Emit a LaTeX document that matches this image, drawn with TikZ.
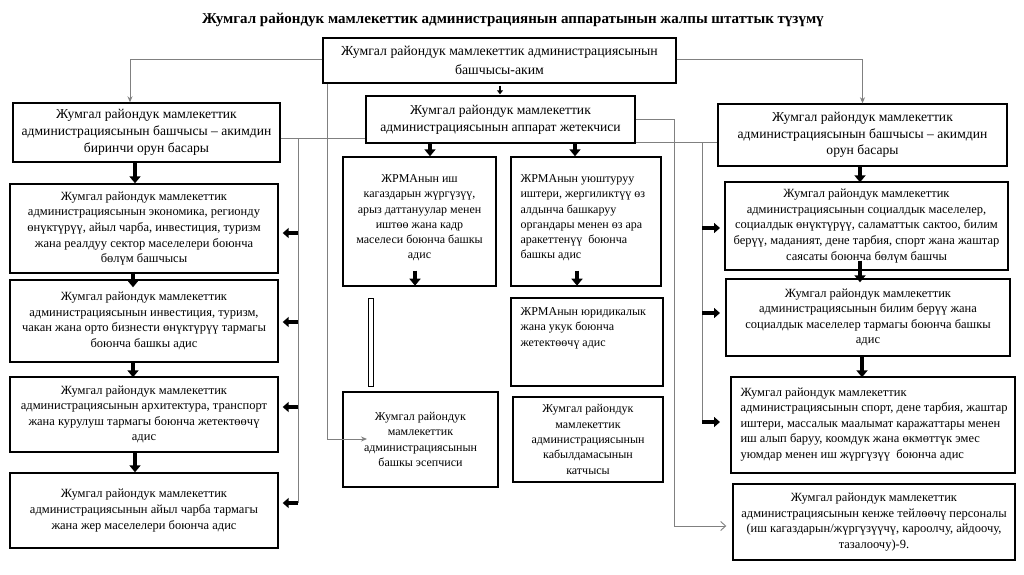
\documentclass[tikz,border=0pt]{standalone}
\usepackage{fontspec}
\setmainfont{Liberation Serif}
\usetikzlibrary{arrows.meta,calc}
\begin{document}
\begin{tikzpicture}[x=1pt,y=-1pt,
  box/.style={draw=black, line width=1.4pt, inner sep=0pt, align=center},
  sub/.style={font=\fontsize{12.5}{15.6}\selectfont},
  mid/.style={font=\fontsize{12}{15.3}\selectfont},
  head/.style={font=\fontsize{13.6}{16.7}\selectfont},
  txt/.style={inner sep=0pt, font=\fontsize{12}{15.3}\selectfont},
  conn/.style={draw=black!50, line width=0.9pt},
  tipS/.style={-{Stealth[length=6pt,width=5pt]}},
  tipO/.style={-{Straight Barb[length=5pt,width=9pt]}},
  blk/.style={line width=4pt, -{Triangle[width=11pt,length=7pt]}},
  blkh/.style={line width=3.5pt, -{Triangle[width=10pt,length=6pt]}},
  blks/.style={line width=2pt, -{Triangle[width=6pt,length=4pt]}}
]
\fill[white] (0,0) rectangle (1024,574);
\useasboundingbox (0,0) rectangle (1024,574);

\node[font=\bfseries\fontsize{15}{17}\selectfont] (title) at (513,20) {Жумгал райондук мамлекеттик администрациянын аппаратынын жалпы штаттык түзүмү};

% top
\node[box, font=\fontsize{13.8}{19}\selectfont, minimum width=353pt, minimum height=45pt] (akim) at (499.5,60.5) {Жумгал райондук мамлекеттик администрациясынын\\башчысы-аким};

\node[box, head, minimum width=267pt, minimum height=59pt] (first) at (146.5,132.5) {Жумгал райондук мамлекеттик\\администрациясынын башчысы -- акимдин\\биринчи орун басары};
\node[box, head, minimum width=269pt, minimum height=47pt] (apparat) at (500.5,119.5) {Жумгал райондук мамлекеттик\\администрациясынын аппарат жетекчиси};
\node[box, head, minimum width=289pt, minimum height=62pt] (deputy) at (862.5,135) {Жумгал райондук мамлекеттик\\администрациясынын башчысы -- акимдин\\орун басары};

% left column
\node[box, sub, minimum width=268pt, minimum height=89pt] (econ) at (144,228.5) {Жумгал райондук мамлекеттик\\администрациясынын экономика, регионду\\өнүктүрүү, айыл чарба, инвестиция, туризм\\жана реалдуу сектор маселелери боюнча\\бөлүм башчысы};
\node[box, sub, minimum width=268pt, minimum height=82pt] (invest) at (144,321) {Жумгал райондук мамлекеттик\\администрациясынын инвестиция, туризм,\\чакан жана орто бизнести өнүктүрүү тармагы\\боюнча башкы адис};
\node[box, sub, minimum width=268pt, minimum height=75pt] (arch) at (144,414.5) {Жумгал райондук мамлекеттик\\администрациясынын архитектура, транспорт\\жана курулуш тармагы боюнча жетектөөчү\\адис};
\node[box, sub, minimum width=268pt, minimum height=75pt] (agri) at (144,510.5) {Жумгал райондук мамлекеттик\\администрациясынын айыл чарба тармагы\\жана жер маселелери боюнча адис};

% middle
\node[box, minimum width=153pt, minimum height=129pt] (docs) at (419.5,221.5) {};
\node[txt, align=center, anchor=north] (docsT) at ($(docs.north)+(0,18)$) {ЖРМАнын иш\\кагаздарын жүргүзүү,\\арыз даттануулар менен\\иштөө жана кадр\\маселеси боюнча башкы\\адис};
\node[box, minimum width=150pt, minimum height=129pt] (org) at (586,221.5) {};
\node[txt, align=left, anchor=north west] (orgT) at ($(org.north west)+(10,18)$) {ЖРМАнын уюштуруу\\иштери, жергиликтүү өз\\алдынча башкаруу\\органдары менен өз ара\\аракеттенүү \ боюнча\\башкы адис};
\node[draw=black, line width=1pt, inner sep=0pt, minimum width=5pt, minimum height=88pt] (bar) at (370.5,342) {};
\node[box, minimum width=152pt, minimum height=88pt] (legal) at (587,342) {};
\node[txt, align=left, anchor=north west] (legalT) at ($(legal.north west)+(10,10)$) {ЖРМАнын юридикалык\\жана укук боюнча\\жетектөөчү адис};
\node[box, mid, minimum width=155pt, minimum height=95pt] (acct) at (420.5,439.5) {Жумгал райондук\\мамлекеттик\\администрациясынын\\башкы эсепчиси};
\node[box, mid, minimum width=150pt, minimum height=85pt] (recep) at (588,439.5) {Жумгал райондук\\мамлекеттик\\администрациясынын\\кабылдамасынын\\катчысы};

% right column
\node[box, sub, minimum width=283pt, minimum height=88pt] (social) at (866.5,226) {Жумгал райондук мамлекеттик\\администрациясынын социалдык маселелер,\\социалдык өнүктүрүү, саламаттык сактоо, билим\\берүү, маданият, дене тарбия, спорт жана жаштар\\саясаты боюнча бөлүм башчы};
\node[box, sub, minimum width=284pt, minimum height=77pt] (edu) at (868,317.5) {Жумгал райондук мамлекеттик\\администрациясынын билим берүү жана\\социалдык маселелер тармагы боюнча башкы\\адис};
\node[box, minimum width=284pt, minimum height=96pt] (sport) at (873,425) {};
\node[txt, sub, align=left, anchor=north west] (sportT) at ($(sport.north west)+(10,11)$) {Жумгал райондук мамлекеттик\\администрациясынын спорт, дене тарбия, жаштар\\иштери, массалык маалымат каражаттары менен\\иш алып баруу, коомдук жана өкмөттүк эмес\\уюмдар менен иш жүргүзүү \ боюнча адис};
\node[box, sub, minimum width=282pt, minimum height=76pt] (staff) at (874,522) {Жумгал райондук мамлекеттик\\администрациясынын кенже тейлөөчү персоналы\\(иш кагаздарын/жүргүзүүчү, кароолчу, айдоочу,\\тазалоочу)-9.};

% gray connectors
\coordinate (aL) at (130,59);
\draw[conn, tipS] (akim.west |- aL) -- (aL) -- (aL |- first.north);
\draw[conn, tipS] (akim.east |- aL) -| (deputy.north);

\coordinate (mv) at (327,439);
\coordinate (acctIn) at (367,439);
\draw[conn, tipS] (akim.south -| mv) -- (mv) -- (acctIn);

\coordinate (lvTop) at (298,138);
\coordinate (lvBot) at (298,503);
\draw[conn] (first.east |- lvTop) -- (apparat.west |- lvTop);
\draw[conn] (lvTop) -- (lvBot);

\coordinate (rv1) at (674,119.5);
\coordinate (rv1b) at (674,526);
\draw[conn, tipO] (apparat.east) -- (rv1) -- (rv1b) -- ($(staff.west |- rv1b)+(-6,0)$);

\coordinate (rvTop) at (702,142);
\coordinate (rvBot) at (702,422);
\coordinate (rax) at (720,0);
\draw[conn] (apparat.east |- rvTop) -- (deputy.west |- rvTop);
\draw[conn] (rvTop) -- (rvBot);

% block arrows left side
\draw[blkh] ($(lvTop |- econ.east)+(0,4.5)$) -- ($(econ.east)+(4,4.5)$);
\draw[blkh] ($(lvTop |- invest.east)+(0,1)$) -- ($(invest.east)+(4,1)$);
\draw[blkh] ($(lvTop |- arch.east)+(0,-7.5)$) -- ($(arch.east)+(4,-7.5)$);
\draw[blkh] (lvBot) -- ($(agri.east |- lvBot)+(4,0)$);

% block arrows right side
\draw[blkh] ($(rvTop |- social.west)+(0,2)$) -- ($(rax |- social.west)+(0,2)$);
\draw[blkh] ($(rvTop |- edu.west)+(0,-4.5)$) -- ($(rax |- edu.west)+(0,-4.5)$);
\draw[blkh] (rvBot) -- (rax |- rvBot);

% vertical block arrows
\coordinate (lax) at (135,0);
\draw[blk] (first.south -| lax) -- (econ.north -| lax);
\draw[blk] ($(econ.south -| lax)+(-2,-2)$) -- ($(invest.north -| lax)+(-2,8)$);
\draw[blk] ($(invest.south -| lax)+(-2,0)$) -- ($(arch.north -| lax)+(-2,1)$);
\draw[blk] (arch.south -| lax) -- (agri.north -| lax);

\coordinate (rax2) at (860,0);
\draw[blk] (deputy.south -| rax2) -- ($(social.north -| rax2)+(0,1)$);
\draw[blk] ($(social.south -| rax2)+(0,-10)$) -- ($(edu.north -| rax2)+(0,4)$);
\draw[blk] ($(edu.south -| rax2)+(2,0)$) -- ($(sport.north -| rax2)+(2,1)$);

\coordinate (max1) at (430,0);
\coordinate (max2) at (575,0);
\draw[blk] (apparat.south -| max1) -- (docs.north -| max1);
\draw[blk] (apparat.south -| max2) -- (org.north -| max2);
\coordinate (mix1) at (415,0);
\coordinate (mix2) at (577,0);
\draw[blk] ($(docs.south -| mix1)+(0,-16)$) -- ($(docs.south -| mix1)+(0,-1)$);
\draw[blk] ($(org.south -| mix2)+(0,-16)$) -- ($(org.south -| mix2)+(0,-1)$);

\coordinate (tax) at (500,0);
\draw[blks] ($(akim.south -| tax)+(0,2)$) -- ($(apparat.north -| tax)+(0,-1)$);
\end{tikzpicture}
\end{document}
